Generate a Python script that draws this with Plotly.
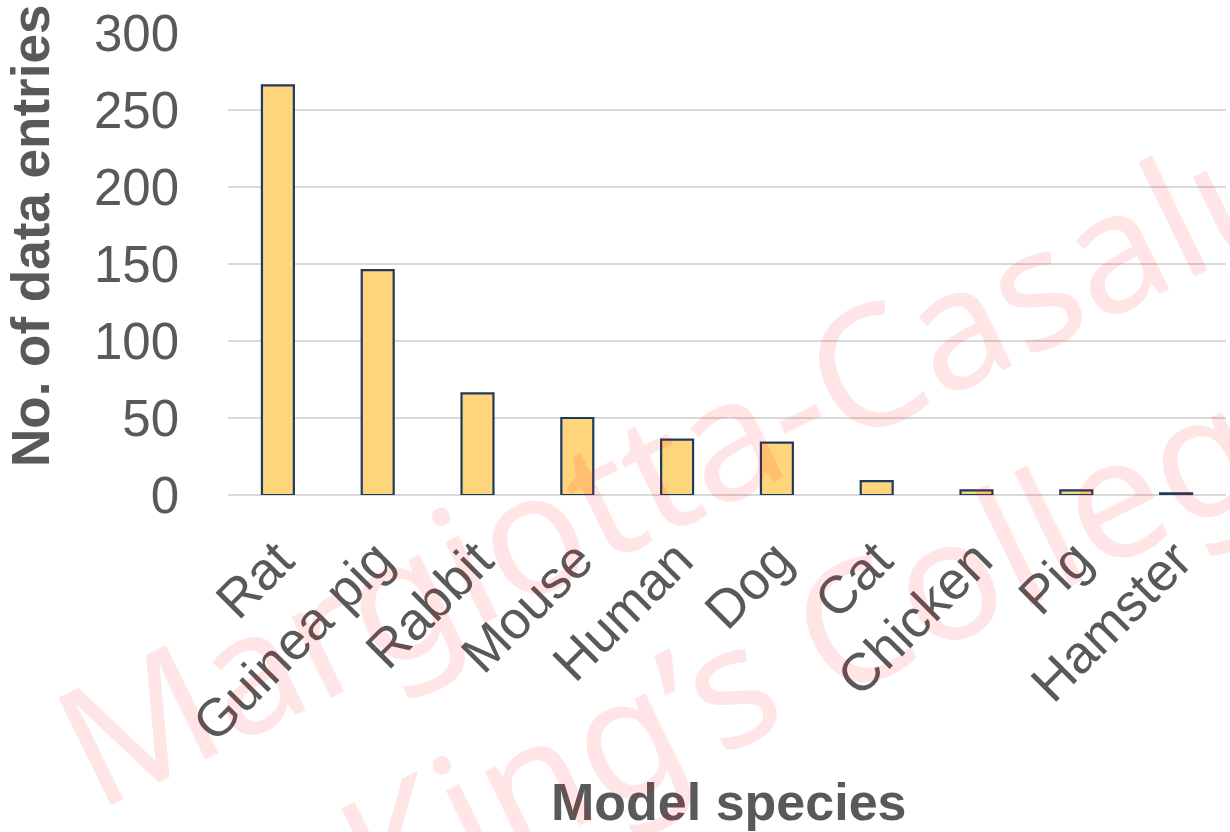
import plotly.graph_objects as go

species = ["Rat", "Guinea pig", "Rabbit", "Mouse", "Human", "Dog", "Cat", "Chicken", "Pig", "Hamster"]
entries = [266, 146, 66, 50, 36, 34, 9, 3, 3, 1]
y_ticks = [0, 50, 100, 150, 200, 250, 300]

text_grey = "#595959"
font_main = "Liberation Sans, Arial, sans-serif"

fig = go.Figure(
    go.Bar(
        x=species,
        y=entries,
        marker=dict(color="#FFD57C", line=dict(color="#1F3A5F", width=2.2)),
        width=0.32,
    )
)

fig.update_layout(
    width=1230,
    height=832,
    margin=dict(l=228, r=4, t=33, b=337),
    paper_bgcolor="white",
    plot_bgcolor="white",
    showlegend=False,
    font=dict(family=font_main, color=text_grey, size=52),
)

fig.update_xaxes(
    tickangle=-45,
    tickfont=dict(size=53, color=text_grey),
    showgrid=False,
    showline=False,
    ticks="",
    ticklabelstandoff=22,
)
fig.update_yaxes(
    range=[0, 300],
    tickvals=y_ticks,
    tickfont=dict(size=51, color=text_grey),
    showgrid=True,
    gridcolor="#D9D9D9",
    gridwidth=2,
    zeroline=True,
    zerolinecolor="#D9D9D9",
    zerolinewidth=2,
    showline=False,
    ticks="",
    ticklabelstandoff=48,
)

# Axis titles placed in pixel space of the 1230x832 page
def px_to_paper(px, py):
    return (px - 228) / 998, (495 - py) / 462

tx, ty = px_to_paper(30, 236)
fig.add_annotation(
    text="<b>No. of data entries</b>", xref="paper", yref="paper",
    x=tx, y=ty, xanchor="center", yanchor="middle", showarrow=False,
    textangle=-90, font=dict(size=53, color=text_grey),
)
tx, ty = px_to_paper(728, 802)
fig.add_annotation(
    text="<b>Model species</b>", xref="paper", yref="paper",
    x=tx, y=ty, xanchor="center", yanchor="middle", showarrow=False,
    font=dict(size=52, color=text_grey),
)

# Light red watermark drawn over the chart
wm_color = "rgba(255,0,0,0.10)"
wm_font = "Noto Sans, DejaVu Sans, sans-serif"
wx, wy = px_to_paper(732, 430)
fig.add_annotation(
    text="Margiotta-Casaluci", xref="paper", yref="paper",
    x=wx, y=wy, xanchor="center", yanchor="middle", showarrow=False, textangle=-26,
    font=dict(family=wm_font, size=168, color=wm_color),
)
wx, wy = px_to_paper(840, 625)
fig.add_annotation(
    text="King’s College", xref="paper", yref="paper",
    x=wx, y=wy, xanchor="center", yanchor="middle", showarrow=False, textangle=-26,
    font=dict(family=wm_font, size=168, color=wm_color),
)

fig.write_html("out.html")
